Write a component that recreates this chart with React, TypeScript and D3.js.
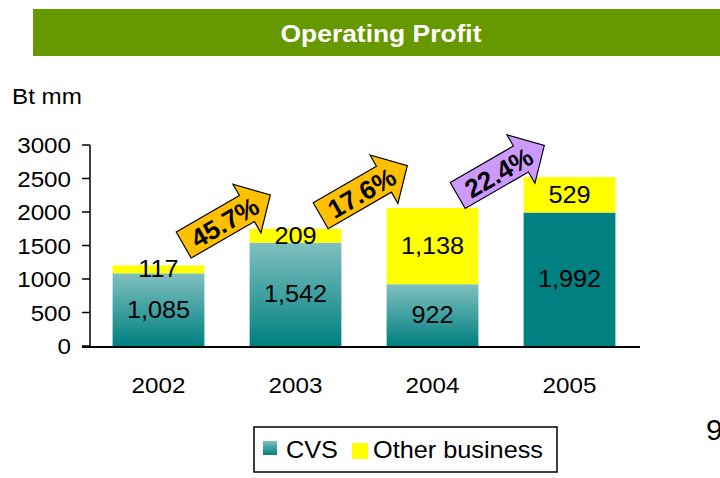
import React from "react";
import * as d3 from "d3";

const years = ["2002", "2003", "2004", "2005"];
const cvs = [1085, 1542, 922, 1992];
const other = [117, 209, 1138, 529];
const cvsLabels = ["1,085", "1,542", "922", "1,992"];
const otherLabels = ["117", "209", "1,138", "529"];
const yTicks = [0, 500, 1000, 1500, 2000, 2500, 3000];
const growthLabels = ["45.7%", "17.6%", "22.4%"];
const growthFrom = ["2002", "2003", "2004"];
const growthTo = ["2003", "2004", "2005"];
const growthLevel = [1880, 2318, 2619];
const growthColors = ["#FFC000", "#FFC000", "#CC99FF"];
const cvsGradient = [true, true, true, false];

const W = 720;
const H = 478;
const SX = 1.1;
const FONT = "Liberation Sans, Arial, Helvetica, sans-serif";

function T({ x, y, size, anchor = "middle", weight = "normal", fill = "#000", children }: any) {
  return (
    <text
      transform={`translate(${x},${y}) scale(${SX},1)`}
      fontSize={size}
      fontFamily={FONT}
      fontWeight={weight}
      textAnchor={anchor}
      fill={fill}
    >
      {children}
    </text>
  );
}

export default function App() {
  const x = d3.scaleBand<string>().domain(years).range([90, 638]).paddingInner(0.33).paddingOuter(0.165);
  const y = d3.scaleLinear().domain([0, 3000]).range([346, 145]);
  const bw = x.bandwidth();

  const arrowPath = (() => {
    const p = d3.path();
    p.moveTo(-50, -15);
    p.lineTo(23, -15);
    p.lineTo(23, -28);
    p.lineTo(50, 0);
    p.lineTo(23, 28);
    p.lineTo(23, 15);
    p.lineTo(-50, 15);
    p.closePath();
    return p.toString();
  })();

  return (
    <svg width={W} height={H} style={{ position: "absolute", left: 0, top: 0, background: "#fff" }}>
      <defs>
        <linearGradient id="cvsGrad" x1="0" y1="0" x2="0" y2="1">
          <stop offset="0%" stopColor="#80C0C0" />
          <stop offset="100%" stopColor="#008080" />
        </linearGradient>
      </defs>
      <rect x={0} y={0} width={W} height={H} fill="#fff" />

      {/* header */}
      <rect x={33} y={9} width={W - 33} height={47} fill="#669900" />
      <T x={381} y={42} size={24} weight="bold" fill="#fff">Operating Profit</T>

      <T x={12} y={104} size={22} anchor="start">Bt mm</T>

      {/* y axis */}
      <line x1={90} x2={90} y1={y(3000)} y2={y(0)} stroke="#000" strokeWidth={1.5} />
      {yTicks.map((t) => (
        <g key={t}>
          <line x1={82} x2={90} y1={y(t)} y2={y(t)} stroke="#000" strokeWidth={1.5} />
          <T x={71} y={y(t) + 8} size={22} anchor="end">{t}</T>
        </g>
      ))}

      {/* bars */}
      {years.map((yr, i) => {
        const x0 = x(yr)!;
        const yc = y(cvs[i]);
        const yt = y(cvs[i] + other[i]);
        return (
          <g key={yr}>
            <rect x={x0} y={yc} width={bw} height={y(0) - yc} fill={cvsGradient[i] ? "url(#cvsGrad)" : "#008080"} />
            <rect x={x0} y={yt} width={bw} height={yc - yt} fill="#FFFF00" />
            <T x={x0 + bw / 2} y={(yc + y(0)) / 2 + 8} size={23}>{cvsLabels[i]}</T>
            <T x={x0 + bw / 2} y={(yc + yt) / 2 + 8} size={23}>{otherLabels[i]}</T>
            <T x={x0 + bw / 2} y={393} size={22}>{yr}</T>
          </g>
        );
      })}

      {/* x axis */}
      <line x1={82} x2={640} y1={y(0) + 1} y2={y(0) + 1} stroke="#000" strokeWidth={2} />

      {/* growth arrows */}
      {growthLabels.map((lab, i) => {
        const cx = (x(growthFrom[i])! + x(growthTo[i])! + bw) / 2;
        const cy = y(growthLevel[i]);
        return (
          <g key={lab} transform={`translate(${cx},${cy}) rotate(-30)`}>
            <path d={arrowPath} fill={growthColors[i]} stroke="#000" strokeWidth={1.2} />
            <text
              x={-3}
              y={10}
              fontSize={26}
              fontWeight="bold"
              fontFamily={FONT}
              textAnchor="middle"
              fill="#000"
            >
              {lab}
            </text>
          </g>
        );
      })}

      {/* legend */}
      <rect x={254} y={427} width={303} height={45} fill="#fff" stroke="#000" strokeWidth={1.5} />
      <rect x={263} y={441} width={14} height={14} fill="url(#cvsGrad)" />
      <T x={286} y={458} size={23} anchor="start">CVS</T>
      <rect x={352} y={443} width={16} height={16} fill="#FFFF00" />
      <T x={373} y={458} size={23} anchor="start">Other business</T>

      {/* page number */}
      <text x={706} y={440} fontSize={30} fontFamily={FONT} fill="#000">9</text>
    </svg>
  );
}
